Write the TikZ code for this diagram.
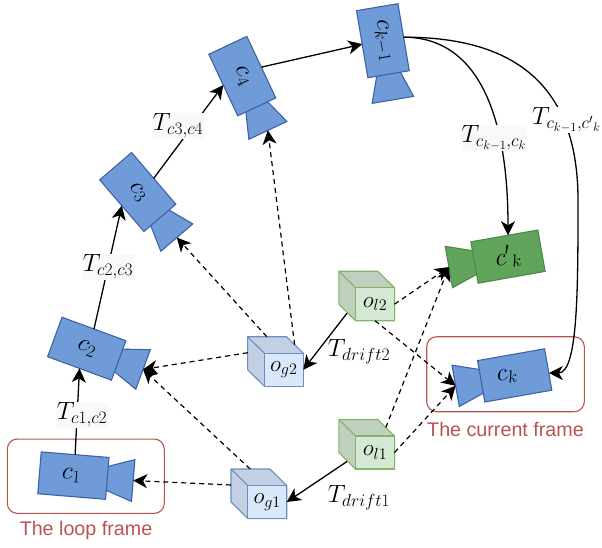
\documentclass[tikz,border=0pt]{standalone}
\usepackage{fix-cm}
\usepackage{amsmath,amssymb}
\usepackage{fontspec}
\newfontfamily\framefont{Liberation Sans}
\usetikzlibrary{arrows.meta}
\definecolor{camfill}{HTML}{6F9BD9}
\definecolor{camline}{HTML}{3F62A5}
\definecolor{greenfill}{HTML}{60A45C}
\definecolor{greenline}{HTML}{4B8A47}
\definecolor{framered}{HTML}{B85450}
\definecolor{labelfill}{HTML}{F8F9FB}
\definecolor{blueline}{HTML}{6C8EBF}
\definecolor{bluefront}{HTML}{DAE8FC}
\definecolor{blueside}{HTML}{C3CFE2}
\definecolor{greencubeline}{HTML}{82B366}
\definecolor{greencubefront}{HTML}{D5E8D4}
\definecolor{greencubeside}{HTML}{BFD1BE}
\tikzset{
  bigmath/.style={font=\fontsize{25}{29}\selectfont},
  cubemath/.style={font=\fontsize{23}{27}\selectfont},
  cambody/.style={bigmath, minimum width=68pt, minimum height=42pt, inner sep=0pt, outer sep=0pt},
  bluecam/.style={draw=camline, fill=camfill, line width=1.1pt},
  greencam/.style={draw=greenline, fill=greenfill, line width=1.1pt},
  pose/.style={bigmath, fill=labelfill, inner sep=1pt},
  drift/.style={bigmath, inner sep=1pt},
  solid arrow/.style={-{Stealth[length=14pt,width=14pt,inset=4pt]}, line width=1.3pt},
  dash arrow/.style={-{Stealth[length=14pt,width=14pt,inset=4pt]}, line width=1.2pt, dash pattern=on 5pt off 4pt},
  keyframe/.style={draw=framered, line width=1.1pt, rounded corners=10pt},
  framelabel/.style={text=framered, font=\framefont\fontsize{19.7}{23}\selectfont}
}
% camera: name, centre, rotation, lens side, style, label
\newcommand{\camera}[6]{
  \begin{scope}[shift={(#2)}, rotate=#3, xscale=#4]
    \draw[#5] (33,-11.7) -- (60,-21) -- (60,21) -- (33,11.7) -- cycle;
    \coordinate (#1-lens) at (60,0);
  \end{scope}
  \node[cambody, #5, rotate=#3] (#1) at (#2) {#6};
}
% cube: name, centre of front face, colour prefix, label
\newcommand{\cube}[4]{
  \begin{scope}[shift={(#2)}]
    \draw[draw=#3line, fill=#3side, line width=1.1pt, line join=round]
      (-36.2,-33) -- (2.8,-33) -- (19.5,-16.5) -- (19.5,16.5) -- (-19.5,16.5) -- (-36.2,0) -- cycle;
    \draw[draw=#3line, line width=1.1pt] (-36.2,-33) -- (-19.5,-16.5);
    \coordinate (#1-l) at (-36,-17);
    \coordinate (#1-t) at (-17,-33);
    \coordinate (#1-r) at (10.8,-25);
    \coordinate (#1-d) at (-28,9);
  \end{scope}
  \node[cubemath, draw=#3line, fill=#3front, line width=1.1pt, minimum width=39pt, minimum height=33pt,
    inner sep=0pt, outer sep=0pt] (#1) at (#2) {#4};
}
\begin{document}
\begin{tikzpicture}[x=1pt, y=-1pt]
\useasboundingbox (0,0) rectangle (602,547);
% key frames
\node[keyframe, minimum width=157pt, minimum height=74.3pt] (loopframe) at (85.8,476.2) {};
\node[keyframe, minimum width=157.6pt, minimum height=75pt] (currentframe) at (505.5,374.2) {};
\node[framelabel] (looptext) at (86,530) {The loop frame};
\node[framelabel] (currenttext) at (505.5,429) {The current frame};
% cameras
\camera{c1}{73.4,475.6}{-4.7}{1}{bluecam}{$c_1\kern4pt$}
\camera{c2}{86.75,348.7}{-20.2}{1}{bluecam}{$c_2$}
\camera{c3}{137.75,192}{-49.4}{1}{bluecam}{$c_3$}
\camera{c4}{242.3,76.1}{-64.8}{1}{bluecam}{$c_4$}
\camera{ckm}{382.9,40.7}{-80.4}{1}{bluecam}{$c_{k-1}$}
\camera{cpk}{508,256.6}{10}{-1}{greencam}{$c^{\prime}{}_k$}
\camera{ck}{514.7,375.4}{10}{-1}{bluecam}{$c_k\kern15pt$}
% cubes
\cube{og1}{267.2,502}{blue}{$o_{g1}$}
\cube{og2}{283.8,369.7}{blue}{$o_{g2}$}
\cube{ol1}{375,452.5}{greencube}{$o_{l1}$}
\cube{ol2}{375,304.2}{greencube}{$o_{l2}$}
% draw pose arrows
\foreach \a/\b in {c1/c2, c2/c3, c3/c4, c4/ckm}{
\draw[solid arrow] (\a.north) -- (\b.south);
}
\draw[solid arrow] (ckm.north) .. controls (470,37) and (508,100) .. (cpk.80);
\draw[solid arrow] (ckm.north) .. controls (520,37) and (578,90) .. (578,200)
  .. controls (578,290) and (578,373) .. (ck.-6);
% draw drift arrows
\draw[solid arrow] (ol2-d) -- (og2.east);
\draw[solid arrow] (ol1-d) -- (og1.east);
% draw observation arrows
\foreach \a/\b in {og1-l/c1-lens, og1-t/c2-lens, og2-l/c2-lens, og2-t/c3-lens, og2-r/c4-lens,
  ol2.east/cpk-lens, ol1-r/cpk-lens, ol2.south/ck-lens, ol1.east/ck-lens}{
\draw[dash arrow] (\a) -- (\b);
}
% draw pose labels
\node[pose] (t12) at (82,415) {$T_{c1,c2}$};
\node[pose] (t23) at (108,267) {$T_{c2,c3}$};
\node[pose] (t34) at (178,126) {$T_{c3,c4}$};
\node[pose] (tk) at (494,138) {$T_{c_{k-1},c_k}$};
\node[pose, fill=white] (tpk) at (566.5,120) {$T_{c_{k-1},c^{\prime}{}_k}$};
\node[drift] (td2) at (359,352) {$T_{drift2}$};
\node[drift] (td1) at (359,498) {$T_{drift1}$};
\end{tikzpicture}
\end{document}
